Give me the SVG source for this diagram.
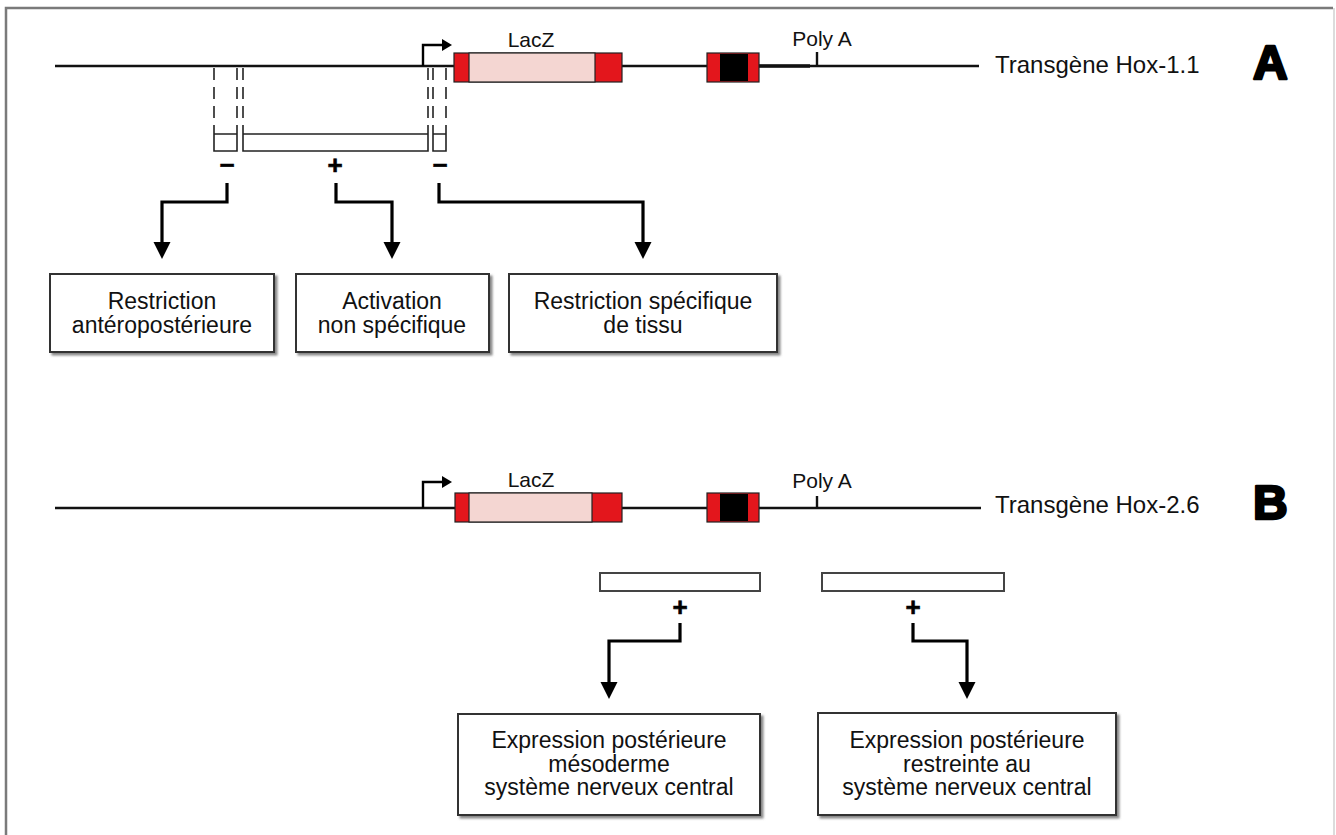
<svg xmlns="http://www.w3.org/2000/svg" width="1336" height="835" viewBox="0 0 1336 835">
<defs>
<style>
.ln{stroke:#111;stroke-width:2.4;fill:none}
.thk{stroke:#111;stroke-width:3.6;fill:none}
.conn{stroke:#000;stroke-width:3.2;fill:none;marker-end:url(#ah)}
.prom{stroke:#000;stroke-width:2.4;fill:none;marker-end:url(#ph)}
.box{fill:#fff;stroke:#333;stroke-width:2;filter:url(#sh)}
.bar{fill:#fff;stroke:#444;stroke-width:2}
.t{font-family:"Liberation Sans",Arial,Helvetica,sans-serif;font-size:23px;fill:#111;text-anchor:middle}
.sm{font-size:21px}
.tg{font-family:"Liberation Sans",Arial,Helvetica,sans-serif;font-size:24px;fill:#111}
.sign{font-family:"Liberation Sans",Arial,sans-serif;font-size:26px;font-weight:bold;fill:#000;stroke:#000;stroke-width:0.6;text-anchor:middle}
.big{font-family:"Liberation Sans",Arial,sans-serif;font-size:48px;font-weight:bold;fill:#000;stroke:#000;stroke-width:2.6;stroke-linejoin:round}
.dash{stroke:#222;stroke-width:1.6;stroke-dasharray:12 7;fill:none}
.sol{stroke:#222;stroke-width:1.6;fill:none}
.red{fill:#e3161c;stroke:#222;stroke-width:1.2}
.pink{fill:#f4d6d2;stroke:#222;stroke-width:1.2}
.blk{fill:#000}
</style>
<marker id="ah" markerUnits="userSpaceOnUse" markerWidth="18" markerHeight="18" refX="0" refY="8.5" orient="auto">
<path d="M0,0 L17,8.5 L0,17 z" fill="#000"/>
</marker>
<marker id="ph" markerUnits="userSpaceOnUse" markerWidth="12" markerHeight="14" refX="0" refY="6" orient="auto">
<path d="M0,0 L10,6 L0,12 z" fill="#000"/>
</marker>
<filter id="sh" x="-10%" y="-10%" width="120%" height="130%">
<feDropShadow dx="2.5" dy="2.5" stdDeviation="1" flood-color="#555" flood-opacity="0.7"/>
</filter>
</defs>
<rect width="1336" height="835" fill="#fff"/>
<path d="M6,835 V8 H1333" fill="none" stroke="#7a7a7a" stroke-width="2.5"/>
<path d="M1334,8 V835" fill="none" stroke="#d0d0d0" stroke-width="1.5"/>

<g id="geneA">
<line class="ln" x1="55" y1="66" x2="979" y2="66"/>
<line class="thk" x1="759" y1="66" x2="810" y2="66"/>
<line class="ln" x1="817" y1="52" x2="817" y2="66" stroke-width="1.6"/>
<rect class="red" x="454" y="53" width="168" height="29"/>
<rect class="pink" x="469" y="53" width="126" height="29"/>
<rect class="red" x="707" y="53" width="52" height="29"/>
<rect class="blk" x="720" y="54" width="28" height="27"/>
<text class="t sm" x="531" y="47">LacZ</text>
<text class="t sm" x="822" y="46">Poly A</text>
<text class="tg" x="995" y="73">Transgène Hox-1.1</text>
<text class="big" x="1253" y="79">A</text>
</g>

<g id="regionsA">
<line class="dash" x1="214" y1="68" x2="214" y2="125"/>
<line class="dash" x1="237" y1="68" x2="237" y2="125"/>
<line class="dash" x1="243" y1="68" x2="243" y2="125"/>
<line class="dash" x1="428" y1="68" x2="428" y2="125"/>
<line class="dash" x1="433" y1="68" x2="433" y2="125"/>
<line class="dash" x1="446" y1="68" x2="446" y2="125"/>
<path class="sol" d="M214,125 V151 H237 V125 M214,134 H237"/>
<path class="sol" d="M243,125 V151 H428 V125 M243,134 H428"/>
<path class="sol" d="M433,125 V151 H446 V125 M433,134 H446"/>
<text class="sign" x="227" y="174">−</text>
<text class="sign" x="335" y="174">+</text>
<text class="sign" x="440" y="174">−</text>
</g>

<g id="geneB">
<line class="ln" x1="55" y1="508" x2="981" y2="508"/>
<line class="ln" x1="817" y1="496" x2="817" y2="508" stroke-width="1.6"/>
<rect class="red" x="455" y="493" width="167" height="29"/>
<rect class="pink" x="469" y="493" width="123" height="29"/>
<rect class="red" x="707" y="493" width="52" height="29"/>
<rect class="blk" x="720" y="494" width="28" height="27"/>
<text class="t sm" x="531" y="487">LacZ</text>
<text class="t sm" x="822" y="488">Poly A</text>
<text class="tg" x="995" y="513">Transgène Hox-2.6</text>
<text class="big" x="1253" y="519">B</text>
</g>

<g id="regionsB">
<rect class="bar" x="600" y="573" width="160" height="18"/>
<rect class="bar" x="822" y="573" width="182" height="18"/>
<text class="sign" x="680" y="616">+</text>
<text class="sign" x="913" y="616">+</text>
</g>

<g id="connectors">
<path class="prom" d="M423,66 V45 H442"/>
<path class="prom" d="M423,508 V482 H442"/>
<path class="conn" d="M227,183 V202 H162 V242"/>
<path class="conn" d="M336,183 V202 H392 V242"/>
<path class="conn" d="M439,183 V202 H643 V242"/>
<path class="conn" d="M680,623 V641 H609 V682"/>
<path class="conn" d="M913,623 V641 H967 V682"/>
</g>

<g id="boxA1">
<rect class="box" x="50" y="274" width="224" height="78"/>
<text class="t" x="162" y="309">Restriction</text>
<text class="t" x="162" y="333">antéropostérieure</text>
</g>
<g id="boxA2">
<rect class="box" x="296" y="274" width="193" height="78"/>
<text class="t" x="392" y="309">Activation</text>
<text class="t" x="392" y="333">non spécifique</text>
</g>
<g id="boxA3">
<rect class="box" x="509" y="274" width="268" height="78"/>
<text class="t" x="643" y="309">Restriction spécifique</text>
<text class="t" x="643" y="333">de tissu</text>
</g>

<g id="boxB1">
<rect class="box" x="458" y="714" width="302" height="101"/>
<text class="t" x="609" y="748">Expression postérieure</text>
<text class="t" x="609" y="771.5">mésoderme</text>
<text class="t" x="609" y="795">système nerveux central</text>
</g>
<g id="boxB2">
<rect class="box" x="818" y="713" width="298" height="102"/>
<text class="t" x="967" y="748">Expression postérieure</text>
<text class="t" x="967" y="771.5">restreinte au</text>
<text class="t" x="967" y="795">système nerveux central</text>
</g>
</svg>
